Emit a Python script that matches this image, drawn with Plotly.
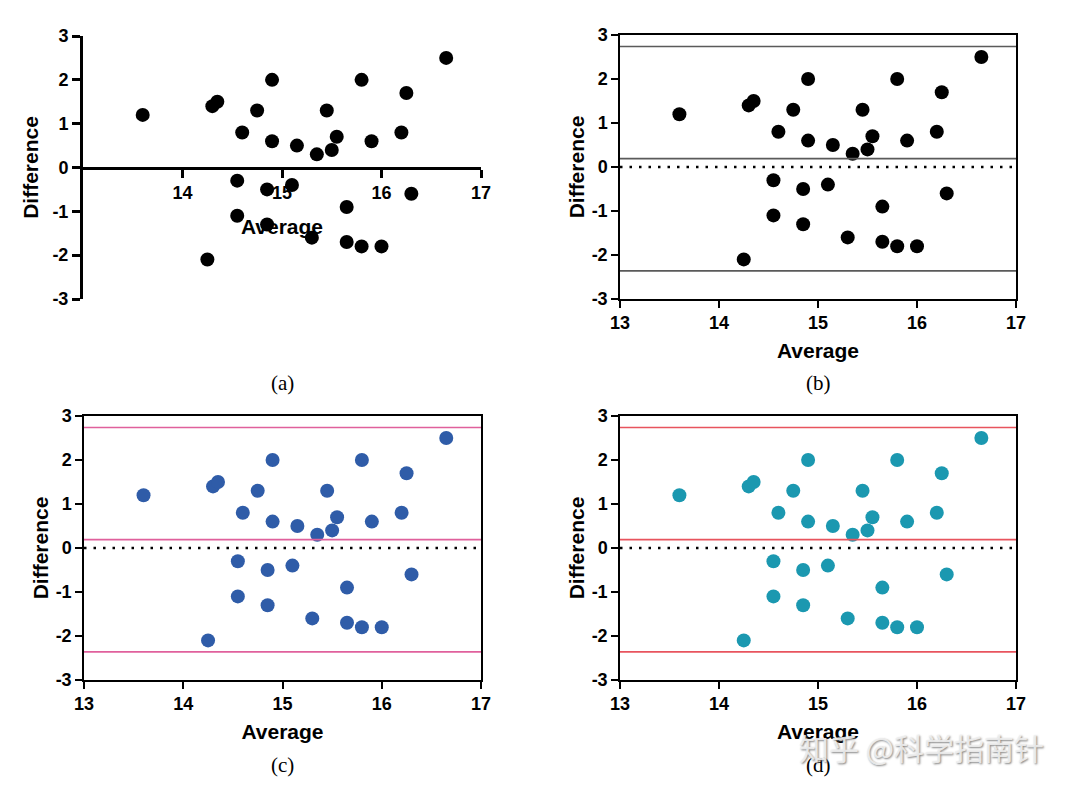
import plotly.graph_objects as go

# Bland-Altman data (same points in all four panels)
average = [13.6, 14.25, 14.3, 14.35, 14.55, 14.55, 14.6, 14.75, 14.85, 14.85,
           14.9, 14.9, 15.1, 15.15, 15.3, 15.35, 15.45, 15.5, 15.55, 15.65,
           15.65, 15.8, 15.8, 15.9, 16.0, 16.2, 16.25, 16.3, 16.65]
difference = [1.2, -2.1, 1.4, 1.5, -0.3, -1.1, 0.8, 1.3, -0.5, -1.3,
              2.0, 0.6, -0.4, 0.5, -1.6, 0.3, 1.3, 0.4, 0.7, -0.9,
              -1.7, 2.0, -1.8, 0.6, -1.8, 0.8, 1.7, -0.6, 2.5]
limits = [2.74, 0.19, -2.36]   # upper LoA, bias, lower LoA
panel_labels = ["(a)", "(b)", "(c)", "(d)"]
x_ticks = [13, 14, 15, 16, 17]
y_ticks = [-3, -2, -1, 0, 1, 2, 3]
y_ticktext = ["-3", "-2", "-1", "0", "1", "2", "3"]

marker_colors = ["black", "black", "#2f5ca8", "#1b98b0"]
line_colors = [None, "#5a5a5a", "#e0609c", "#e8545e"]

W, H = 1080, 794
OFF = 8  # page body margin in the browser
# panel boxes in pixels: left, right, top, bottom
boxes = [(83, 481, 36, 299), (620, 1016, 35, 299),
         (84, 481, 416, 680), (620, 1016, 416, 680)]


def px(x):
    return (x - OFF) / W


def py(y):
    return 1 - (y - OFF) / H


axis_font = dict(family="Liberation Sans, Arial", size=18, color="black", weight="bold")
title_font = dict(family="Liberation Sans, Arial", size=21, color="black", weight="bold")

fig = go.Figure()

for i in range(4):
    n = "" if i == 0 else str(i + 1)
    l, r, t, b = boxes[i]
    xdom = [px(l), px(r)]
    ydom = [py(b), py(t)]

    fig.add_trace(go.Scatter(x=average, y=difference, mode="markers",
                             marker=dict(color=marker_colors[i], size=14),
                             xaxis="x" + n, yaxis="y" + n, showlegend=False))

    if i == 0:
        # panel (a): open axes, x axis crossing at y = 0
        zero_pos = ydom[0] + (ydom[1] - ydom[0]) * 0.5
        fig.layout["xaxis"] = dict(domain=xdom, range=[13, 17], anchor="free",
                                   position=zero_pos, tickvals=x_ticks[1:],
                                   showline=True, linecolor="black", linewidth=3,
                                   ticks="outside", tickwidth=3, ticklen=8,
                                   tickcolor="black", showgrid=False, zeroline=False,
                                   tickfont=axis_font, automargin=False,
                                   title=dict(text="Average", font=title_font, standoff=17))
        fig.layout["yaxis"] = dict(domain=ydom, range=[-3, 3], anchor="x",
                                   tickvals=y_ticks, ticktext=y_ticktext,
                                   showline=True, linecolor="black",
                                   linewidth=3, ticks="outside", tickwidth=3, ticklen=8,
                                   tickcolor="black", showgrid=False, zeroline=False,
                                   tickfont=axis_font, automargin=False,
                                   title=dict(text="Difference", font=title_font, standoff=9))
    else:
        fig.layout["xaxis" + n] = dict(domain=xdom, range=[13, 17], anchor="y" + n,
                                       tickvals=x_ticks, showline=True, mirror=True,
                                       linecolor="black", linewidth=1.5,
                                       ticks="outside", tickwidth=2, ticklen=7,
                                       tickcolor="black", showgrid=False, zeroline=False,
                                       tickfont=axis_font, automargin=False,
                                       title=dict(text="Average", font=title_font, standoff=11))
        fig.layout["yaxis" + n] = dict(domain=ydom, range=[-3, 3], anchor="x" + n,
                                       tickvals=y_ticks, ticktext=y_ticktext,
                                       showline=True, mirror=True,
                                       linecolor="black", linewidth=1.5,
                                       ticks="outside", tickwidth=2, ticklen=7,
                                       tickcolor="black", showgrid=False, zeroline=False,
                                       tickfont=axis_font, automargin=False,
                                       title=dict(text="Difference", font=title_font, standoff=1))
        # zero reference (dotted)
        fig.add_shape(type="line", xref="x" + n + " domain", yref="y" + n,
                      x0=0, x1=1, y0=0, y1=0,
                      line=dict(color="black", width=2.5, dash="2.5px,7px"))
        # bias and limits of agreement
        for v in limits:
            fig.add_shape(type="line", xref="x" + n + " domain", yref="y" + n,
                          x0=0, x1=1, y0=v, y1=v,
                          line=dict(color=line_colors[i], width=1.6))

    # panel caption
    cap_y = 383 if i < 2 else 765
    fig.add_annotation(text=panel_labels[i], xref="paper", yref="paper",
                       x=px((l + r) / 2), y=py(cap_y), showarrow=False,
                       xanchor="center", yanchor="middle",
                       font=dict(family="Liberation Serif, Times New Roman", size=21, color="black"))

# watermark
fig.add_annotation(text="知乎 @科学指南针", xref="paper", yref="paper",
                   x=px(921), y=py(747), showarrow=False,
                   xanchor="center", yanchor="middle",
                   font=dict(family="Noto Sans CJK SC", size=30, color="rgba(240,240,240,0.9)",
                             shadow="1px 1px 2px #777"))

fig.update_layout(width=W, height=H, margin=dict(l=0, r=0, t=0, b=0),
                  plot_bgcolor="white", paper_bgcolor="white")

fig.write_html("out.html")
